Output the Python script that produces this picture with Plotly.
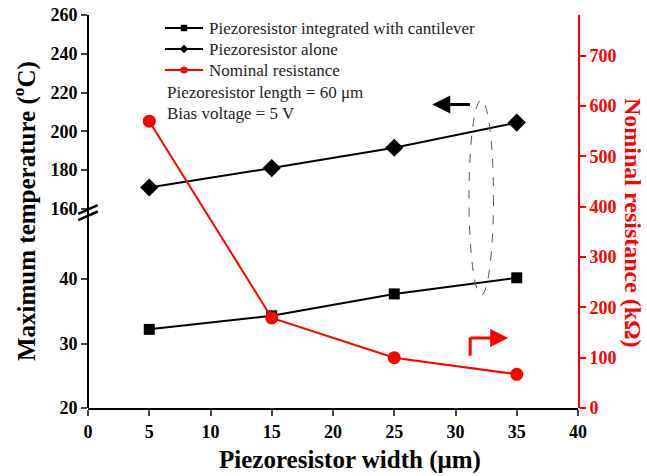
import plotly.graph_objects as go

width_um = [5, 15, 25, 35]
temp_cantilever = [32.2, 34.3, 37.7, 40.2]
temp_alone = [171, 181, 191.5, 204.5]
resistance = [570, 179, 100, 67]

x_ticks = [0, 5, 10, 15, 20, 25, 30, 35, 40]
y_low_ticks = [20, 30, 40]
y_up_ticks = [160, 180, 200, 220, 240, 260]
y_r_ticks = [0, 100, 200, 300, 400, 500, 600, 700]
legend_names = ["Piezoresistor integrated with cantilever", "Piezoresistor alone", "Nominal resistance"]

FONT = "Liberation Serif"
RED = "#ff0000"
TXT = "#222222"

# plot area in pixels: left 88, right 578, top 15, bottom 408
PL, PR, PT, PB = 88, 578, 15, 408


def px2x(p):
    return (p - PL) / (PR - PL)


def px2y(p):
    return (PB - p) / (PB - PT)


fig = go.Figure()
fig.add_trace(go.Scatter(x=width_um, y=temp_cantilever, xaxis="x", yaxis="y", mode="lines+markers",
                         line=dict(color="black", width=2), marker=dict(symbol="square", size=11, color="black"),
                         showlegend=False))
fig.add_trace(go.Scatter(x=width_um, y=temp_alone, xaxis="x", yaxis="y2", mode="lines+markers",
                         line=dict(color="black", width=2), marker=dict(symbol="diamond", size=14, color="black"),
                         showlegend=False))
fig.add_trace(go.Scatter(x=width_um, y=resistance, xaxis="x", yaxis="y3", mode="lines+markers",
                         line=dict(color=RED, width=2), marker=dict(symbol="circle", size=13, color=RED),
                         showlegend=False))

tickfont = dict(family=FONT, size=18, color="black", weight="bold")
fig.update_layout(
    width=647, height=476,
    margin=dict(l=PL, r=647 - PR, t=PT, b=476 - PB, autoexpand=False),
    plot_bgcolor="rgba(0,0,0,0)", paper_bgcolor="white",
    font=dict(family=FONT),
    showlegend=False,
    xaxis=dict(range=[0, 40], tickvals=x_ticks, ticks="outside", ticklen=6, tickwidth=2,
               showline=True, linecolor="black", linewidth=2, showgrid=False, zeroline=False,
               tickfont=tickfont, anchor="y"),
    xaxis2=dict(range=[0, 40], tickvals=[5, 10, 15, 20, 25, 30, 35], ticks="inside", ticklen=5, tickwidth=2,
                showline=True, linecolor="black", linewidth=2, showgrid=False, zeroline=False,
                showticklabels=False, overlaying="x", anchor="y2", side="top"),
    yaxis=dict(domain=[0, 0.492], range=[20, 50], tickvals=y_low_ticks, ticks="outside", ticklen=6, tickwidth=2,
               showline=False, showgrid=False, zeroline=False, tickfont=tickfont, anchor="x"),
    yaxis2=dict(domain=[0.497, 1], range=[158, 260], tickvals=y_up_ticks, ticks="outside", ticklen=6, tickwidth=2,
                showline=False, showgrid=False, zeroline=False, tickfont=tickfont, anchor="x"),
    yaxis3=dict(domain=[0, 1], range=[0, 781], tickvals=y_r_ticks, ticks="outside", ticklen=6, tickwidth=2,
                tickcolor=RED, showline=True, linecolor=RED, linewidth=2, showgrid=False, zeroline=False,
                tickfont=dict(family=FONT, size=18, color=RED, weight="bold"), side="right", anchor="x"),
)

shapes = [
    # left axis line
    dict(type="line", xref="paper", yref="paper", x0=0, x1=0, y0=0, y1=1, line=dict(color="black", width=2)),
    # break marks
    dict(type="line", xref="paper", yref="paper", x0=-0.02, x1=0.02, y0=0.478, y1=0.500, line=dict(color="black", width=2.5)),
    dict(type="line", xref="paper", yref="paper", x0=-0.02, x1=0.02, y0=0.494, y1=0.516, line=dict(color="black", width=2.5)),
    # dashed ellipse
    dict(type="circle", xref="x", yref="paper", x0=31.1, x1=33.1, y0=px2y(295), y1=px2y(100),
         line=dict(color="#555", width=1, dash="dash")),
    # red L vertical
    dict(type="line", xref="x", yref="y3", x0=31.2, x1=31.2, y0=104, y1=140, line=dict(color=RED, width=3)),
]

ann = []
# manual legend
legend_rows = [(28, "square", "black"), (49, "diamond", "black"), (70, "circle", RED)]
for name, (ry, sym, col) in zip(legend_names, legend_rows):
    shapes.append(dict(type="line", xref="paper", yref="paper", x0=px2x(165), x1=px2x(203),
                       y0=px2y(ry), y1=px2y(ry), line=dict(color=col, width=2)))
    cx, cy = 184, ry
    if sym == "square":
        a = 3.2
        shapes.append(dict(type="rect", xref="paper", yref="paper", x0=px2x(cx - a), x1=px2x(cx + a),
                           y0=px2y(cy + a), y1=px2y(cy - a), fillcolor=col, line=dict(width=0)))
    elif sym == "diamond":
        a = 4.2
        path = (f"M {px2x(cx)},{px2y(cy - a)} L {px2x(cx + a)},{px2y(cy)} "
                f"L {px2x(cx)},{px2y(cy + a)} L {px2x(cx - a)},{px2y(cy)} Z")
        shapes.append(dict(type="path", xref="paper", yref="paper", path=path, fillcolor=col, line=dict(width=0)))
    else:
        a = 3.6
        shapes.append(dict(type="circle", xref="paper", yref="paper", x0=px2x(cx - a), x1=px2x(cx + a),
                           y0=px2y(cy + a), y1=px2y(cy - a), fillcolor=col, line=dict(width=0)))
    ann.append(dict(text=name, xref="paper", yref="paper", x=px2x(207), y=px2y(ry), xanchor="left",
                    yanchor="middle", showarrow=False, font=dict(family=FONT, size=17, color=TXT)))

fig.update_layout(shapes=shapes)

ann += [
    dict(text="Piezoresistor length = 60 μm", xref="paper", yref="paper", x=px2x(165), y=px2y(92),
         xanchor="left", yanchor="middle", showarrow=False, font=dict(family=FONT, size=17, color=TXT)),
    dict(text="Bias voltage = 5 V", xref="paper", yref="paper", x=px2x(165), y=px2y(113),
         xanchor="left", yanchor="middle", showarrow=False, font=dict(family=FONT, size=17, color=TXT)),
    # black arrow pointing left
    dict(x=28.1, y=213.8, ax=31.3, ay=213.8, xref="x", yref="y2", axref="x", ayref="y2", text="",
         showarrow=True, arrowhead=2, arrowsize=1.2, arrowwidth=3, arrowcolor="black"),
    # red arrow right
    dict(x=34.3, y=139, ax=31.1, ay=139, xref="x", yref="y3", axref="x", ayref="y3", text="",
         showarrow=True, arrowhead=2, arrowsize=1.2, arrowwidth=3, arrowcolor=RED),
    # axis titles
    dict(text="<b>Piezoresistor width (μm)</b>", xref="paper", yref="paper", x=px2x(350), y=px2y(460),
         showarrow=False, xanchor="center", yanchor="middle",
         font=dict(family=FONT, size=25, color="black")),
    dict(text="<b>Maximum temperature (<sup>o</sup>C)</b>", xref="paper", yref="paper", x=px2x(24), y=px2y(211),
         textangle=-90, showarrow=False, xanchor="center", yanchor="middle",
         font=dict(family=FONT, size=25, color="black")),
    dict(text="<b>Nominal resistance (kΩ)</b>", xref="paper", yref="paper", x=px2x(633), y=px2y(222),
         textangle=90, showarrow=False, xanchor="center", yanchor="middle",
         font=dict(family=FONT, size=24, color=RED)),
]
fig.update_layout(annotations=ann)

fig.write_html("out.html")
